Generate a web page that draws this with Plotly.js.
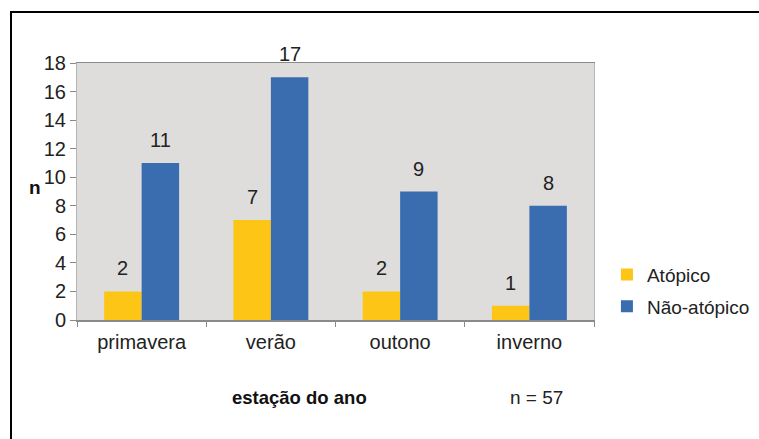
<!DOCTYPE html>
<html>
<head>
<meta charset="utf-8">
<script src="https://cdn.plot.ly/plotly-3.0.1.min.js"></script>
<style>
  html, body { margin: 0; padding: 0; background: #fff; }
  #wrap { position: relative; width: 759px; height: 439px; overflow: hidden; }
  #chart { position: absolute; left: 0; top: 0; width: 759px; height: 439px; }
  #frame { position: absolute; left: 10px; top: 11px; width: 800px; height: 500px;
           border-left: 2px solid #000; border-top: 2px solid #000; pointer-events: none; }
</style>
</head>
<body>
<div id="wrap">
  <div id="chart"></div>
  <div id="frame"></div>
</div>
<script>
const categories = ["primavera", "verão", "outono", "inverno"];
const atopico = [2, 7, 2, 1];
const naoAtopico = [11, 17, 9, 8];
const seriesNames = ["Atópico", "Não-atópico"];
const yTicks = [0, 2, 4, 6, 8, 10, 12, 14, 16, 18];
const totalN = 57;

const colors = ["#FDC516", "#3A6DB0"];
const font = "Liberation Sans, Arial, sans-serif";

const traces = [atopico, naoAtopico].map((vals, i) => ({
  type: "bar",
  name: seriesNames[i],
  x: categories,
  y: vals,
  marker: { color: colors[i], line: { width: 0 } },
  legendgroup: "g" + i,
  hoverinfo: "none"
}));

const annotations = [];
[atopico, naoAtopico].forEach((vals, i) => {
  vals.forEach((v, j) => {
    annotations.push({
      x: categories[j], y: v, xref: "x", yref: "y",
      text: String(v), showarrow: false,
      xshift: i === 0 ? -18.75 : 18.75, yshift: 23,
      font: { family: font, size: 20, color: "#222" }
    });
  });
});
annotations.push({
  xref: "paper", yref: "paper", x: -0.097, y: 0.514,
  text: "<b>n</b>", showarrow: false,
  font: { family: font, size: 19, color: "#111" }
});
annotations.push({
  xref: "paper", yref: "paper", x: 0.431, y: -0.35,
  text: "<b>estação do ano</b>", showarrow: false,
  font: { family: font, size: 18.5, color: "#111" }
});
annotations.push({
  xref: "paper", yref: "paper", x: 0.944, y: -0.35,
  text: "n = " + totalN, showarrow: false,
  font: { family: font, size: 19, color: "#222" }
});

const layout = {
  width: 759, height: 439,
  margin: { l: 77, r: 165, t: 63, b: 119, pad: 0, autoexpand: false },
  paper_bgcolor: "#ffffff",
  plot_bgcolor: "#DEDDDC",
  barmode: "group",
  bargap: 0.42,
  bargroupgap: 0,
  showlegend: true,
  legend: {
    x: 1.025, y: 0.25, xanchor: "left", yanchor: "top",
    font: { family: font, size: 19, color: "#222" },
    bgcolor: "rgba(0,0,0,0)",
    traceorder: "grouped",
    tracegroupgap: 4,
    itemwidth: 30
  },
  xaxis: {
    type: "category",
    showgrid: false,
    showline: true, linecolor: "#8a8a8a", linewidth: 1.5, mirror: true,
    ticks: "outside", tickson: "boundaries", ticklen: 5, tickcolor: "#8a8a8a",
    ticklabelstandoff: 3,
    tickfont: { family: font, size: 20, color: "#222" },
    zeroline: false
  },
  yaxis: {
    range: [0, 18],
    tickvals: yTicks,
    showgrid: false,
    showline: true, linecolor: "#b5b5b5", linewidth: 1, mirror: true,
    ticks: "outside", ticklen: 6, tickcolor: "#8a8a8a",
    tickfont: { family: font, size: 20, color: "#222" },
    zeroline: false
  },
  annotations: annotations
};

Plotly.newPlot("chart", traces, layout, { displayModeBar: false, staticPlot: true });
</script>
</body>
</html>
